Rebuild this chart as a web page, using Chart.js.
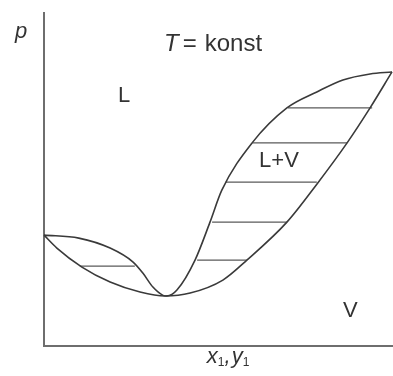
<!DOCTYPE html>
<html>
<head>
<meta charset="utf-8">
<script src="https://cdn.jsdelivr.net/npm/chart.js@4"></script>
<style>
  html, body { margin: 0; padding: 0; background: #fff; }
  #wrap { width: 393px; height: 376px; }
</style>
</head>
<body>
<div id="wrap"><canvas id="graph"></canvas></div>
<script>
// bubble curve (liquid) //
const bubbleX = [0, 0.10, 0.19, 0.256, 0.284, 0.313, 0.342, 0.353, 0.382, 0.434, 0.477, 0.511, 0.598, 0.698, 0.784, 0.859, 0.937, 1.0];
const bubbleP = [0.333, 0.324, 0.294, 0.252, 0.219, 0.177, 0.152, 0.150, 0.168, 0.258, 0.372, 0.468, 0.610, 0.715, 0.763, 0.799, 0.817, 0.823];

// dew curve (vapour) //
const dewX = [0, 0.037, 0.109, 0.190, 0.276, 0.348, 0.420, 0.514, 0.583, 0.698, 0.784, 0.871, 0.937, 1.0];
const dewP = [0.333, 0.294, 0.237, 0.192, 0.162, 0.150, 0.159, 0.198, 0.258, 0.372, 0.486, 0.610, 0.715, 0.823];

// tie lines //
const tieP = [0.240, 0.258, 0.372, 0.492, 0.610, 0.715];
const tieLeft = [0.103, 0.440, 0.483, 0.522, 0.598, 0.701];
const tieRight = [0.261, 0.583, 0.698, 0.784, 0.871, 0.943];

// region labels //
const regionText = ['L', 'L+V', 'V'];
const regionX = [0.213, 0.618, 0.859];
const regionP = [0.733, 0.538, 0.087];

const ink = '#333333';
const curveColor = '#3a3a3a';
const sans = '"Liberation Sans", Arial, sans-serif';

function toPoints(xs, ys) {
    return xs.map((x, i) => ({x: x, y: ys[i]}));
}

const datasets = [{
    data: toPoints(bubbleX, bubbleP),
    borderColor: curveColor,
    borderWidth: 1.6,
    cubicInterpolationMode: 'monotone'
}, {
    data: toPoints(dewX, dewP),
    borderColor: curveColor,
    borderWidth: 1.6,
    cubicInterpolationMode: 'monotone'
}];

for (let i = 0; i < tieP.length; i++) {
    datasets.push({
        data: [{x: tieLeft[i], y: tieP[i]}, {x: tieRight[i], y: tieP[i]}],
        borderColor: '#5a5a5a',
        borderWidth: 1.4,
        tension: 0
    });
}

const textPlugin = {
    id: 'texts',
    afterDraw(chart) {
        const ctx = chart.ctx;
        const xs = chart.scales.x;
        const ys = chart.scales.y;
        const area = chart.chartArea;
        ctx.save();
        ctx.fillStyle = ink;
        ctx.textBaseline = 'alphabetic';
        ctx.textAlign = 'left';

        // region labels
        ctx.font = '22px ' + sans;
        for (let i = 0; i < regionText.length; i++) {
            ctx.fillText(regionText[i], xs.getPixelForValue(regionX[i]), ys.getPixelForValue(regionP[i]));
        }

        // T = konst
        let tx = xs.getPixelForValue(0.345);
        const ty = ys.getPixelForValue(0.886);
        ctx.font = 'italic 24px ' + sans;
        ctx.fillText('T', tx, ty);
        tx += ctx.measureText('T').width + 4;
        ctx.font = '24px ' + sans;
        ctx.fillText('=', tx, ty);
        tx += ctx.measureText('=').width + 8;
        ctx.fillText('konst', tx, ty);

        // axis names
        ctx.font = 'italic 22px ' + sans;
        ctx.fillText('p', area.left - 29, area.top + 25);

        let ax = xs.getPixelForValue(0.468);
        const ay = area.bottom + 17;
        ctx.fillText('x', ax, ay);
        ax += ctx.measureText('x').width;
        ctx.font = '12px ' + sans;
        ctx.fillText('1', ax, ay + 3);
        ax += ctx.measureText('1').width;
        ctx.font = 'italic 22px ' + sans;
        ctx.fillText(',', ax, ay);
        ax += ctx.measureText(',').width + 1;
        ctx.fillText('y', ax, ay);
        ax += ctx.measureText('y').width;
        ctx.font = '12px ' + sans;
        ctx.fillText('1', ax, ay + 3);
        ctx.restore();
    }
};

new Chart(document.getElementById('graph'), {
    type: 'scatter',
    data: { datasets: datasets },
    options: {
        responsive: true,
        maintainAspectRatio: false,
        animation: false,
        layout: {
            padding: { left: 44, top: 13, right: 1, bottom: 30 }
        },
        elements: {
            point: { radius: 0 },
            line: { fill: false }
        },
        datasets: {
            scatter: { showLine: true, clip: false }
        },
        plugins: {
            legend: { display: false },
            tooltip: { enabled: false }
        },
        scales: {
            x: {
                min: 0,
                max: 1,
                ticks: { display: false },
                grid: { display: false, drawTicks: false },
                border: { display: true, color: '#6e6e6e', width: 2 }
            },
            y: {
                min: 0,
                max: 1,
                ticks: { display: false },
                grid: { display: false, drawTicks: false },
                border: { display: true, color: '#6e6e6e', width: 2 }
            }
        }
    },
    plugins: [textPlugin]
});
</script>
</body>
</html>
